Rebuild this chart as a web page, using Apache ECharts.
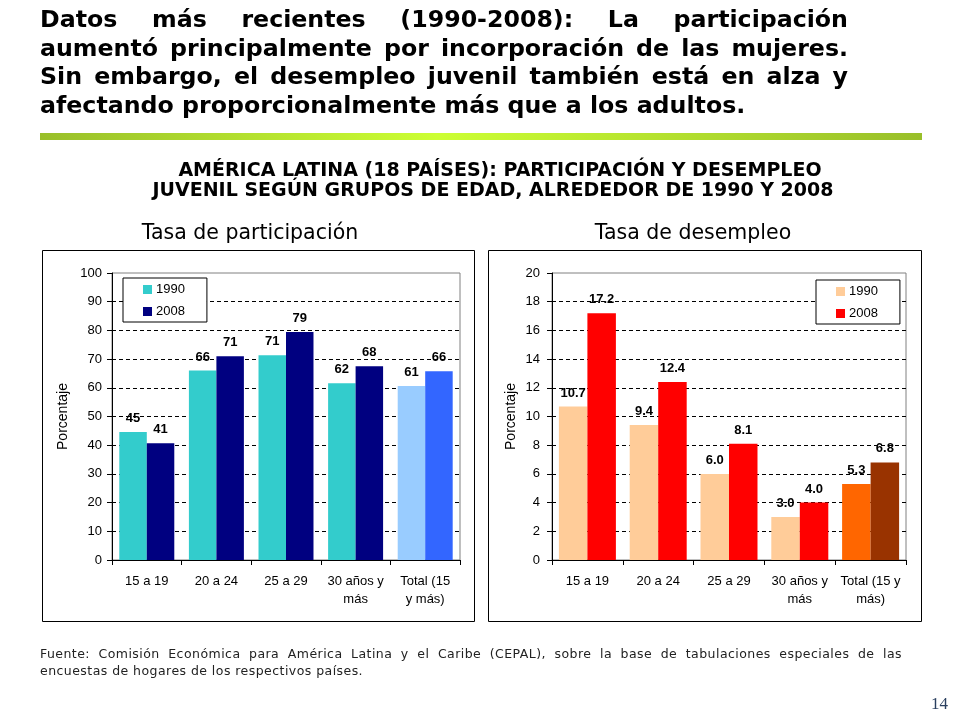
<!DOCTYPE html>
<html>
<head>
<meta charset="utf-8">
<script src="https://cdn.jsdelivr.net/npm/echarts@6/dist/echarts.min.js"></script>
<style>
  html, body { margin: 0; padding: 0; background: #fff; }
  #main { position: absolute; left: 0; top: 0; width: 960px; height: 720px; }
  .txt { position: absolute; pointer-events: none; color: #000; }
  .txt div { white-space: nowrap; }
  .txt .j { text-align: justify; text-align-last: justify; white-space: normal; }
  #cabecera { left: 40px; top: 5px; width: 808px; font: bold 23.7px "DejaVu Sans", sans-serif; line-height: 28.5px; }
  #fuente { left: 40px; top: 645px; width: 862px; font: 12.5px "DejaVu Sans", sans-serif; letter-spacing: 0.45px; line-height: 17px; color: #222; }
</style>
</head>
<body>
<div id="main"></div>
<div id="cabecera" class="txt">
  <div class="j">Datos más recientes (1990-2008): La participación</div>
  <div class="j">aumentó principalmente por incorporación de las mujeres.</div>
  <div class="j">Sin embargo, el desempleo juvenil también está en alza y</div>
  <div>afectando proporcionalmente más que a los adultos.</div>
</div>
<div id="fuente" class="txt">
  <div class="j">Fuente: Comisión Económica para América Latina y el Caribe (CEPAL), sobre la base de tabulaciones especiales de las</div>
  <div>encuestas de hogares de los respectivos países.</div>
</div>
<script>
// datos
var gruposPart = ['15 a 19', '20 a 24', '25 a 29', '30 años y\nmás', 'Total (15\ny más)'];
var gruposDes = ['15 a 19', '20 a 24', '25 a 29', '30 años y\nmás', 'Total (15 y\nmás)'];
var anios = ['1990', '2008'];
var part1990 = [44.6, 66.0, 71.3, 61.6, 60.6];
var part2008 = [40.7, 71.0, 79.4, 67.5, 65.8];
var des1990 = [10.7, 9.4, 6.0, 3.0, 5.3];
var des2008 = [17.2, 12.4, 8.1, 4.0, 6.8];

// colores [grupos, total]
var colPart1990 = ['#33cccc', '#99ccff'];
var colPart2008 = ['#000080', '#3366ff'];
var colDes1990 = ['#ffcc99', '#ff6600'];
var colDes2008 = ['#ff0000', '#993300'];

var fuenteEje = '"Liberation Sans", Arial, sans-serif';

function barras(valores, col) {
  return valores.map(function(v, i) {
    return { value: v, itemStyle: { color: i === valores.length - 1 ? col[1] : col[0] } };
  });
}

function serie(nombre, idx, valores, col, decimales, hueco) {
  return {
    name: nombre,
    type: 'bar',
    xAxisIndex: idx,
    yAxisIndex: idx,
    barGap: '0%',
    barCategoryGap: hueco,
    itemStyle: { color: col[0] },
    label: {
      show: true,
      position: 'top',
      distance: 7,
      color: '#000',
      fontWeight: 'bold',
      fontSize: 13,
      fontFamily: fuenteEje,
      formatter: function(p) {
        return p.value.toFixed(decimales);
      },
    },
    data: barras(valores, col),
  };
}

function ejeX(idx, datos) {
  return {
    type: 'category',
    gridIndex: idx,
    data: datos,
    axisLine: { lineStyle: { color: '#000', width: 1 } },
    axisTick: { show: true, length: 5, lineStyle: { color: '#000' } },
    axisLabel: { color: '#000', fontSize: 13, fontFamily: fuenteEje, margin: 12, lineHeight: 18, interval: 0 },
  };
}

function ejeY(idx, max, intervalo, gap, margen) {
  return {
    type: 'value',
    gridIndex: idx,
    min: 0,
    max: max,
    interval: intervalo,
    name: 'Porcentaje',
    nameLocation: 'middle',
    nameGap: gap,
    nameTextStyle: { color: '#000', fontSize: 14, fontFamily: fuenteEje },
    axisLine: { show: true, lineStyle: { color: '#000', width: 1 } },
    axisTick: { show: true, length: 5, lineStyle: { color: '#000' } },
    axisLabel: { color: '#000', fontSize: 13, fontFamily: fuenteEje, margin: margen },
    splitLine: {
      show: true,
      showMinLine: false,
      showMaxLine: false,
      lineStyle: { color: '#000', type: [4, 3], width: 1 },
    },
  };
}

function leyenda(x, y, col1990, col2008) {
  return {
    orient: 'vertical',
    left: x,
    top: y,
    backgroundColor: '#fff',
    borderColor: '#000',
    borderWidth: 1,
    borderRadius: 0,
    padding: [5, 22, 4, 20],
    itemGap: 9,
    itemWidth: 9,
    itemHeight: 9,
    icon: 'rect',
    selectedMode: false,
    z: 10,
    textStyle: { color: '#000', fontSize: 13, fontFamily: fuenteEje, padding: [0, 0, 0, -1] },
    data: [
      { name: anios[0], itemStyle: { color: col1990 } },
      { name: anios[1], itemStyle: { color: col2008 } },
    ],
  };
}

var option = {
  backgroundColor: '#fff',
  animation: false,
  grid: [
    { left: 112, top: 273, width: 348, height: 287, show: true, borderColor: '#808080', borderWidth: 1, backgroundColor: 'transparent' },
    { left: 552, top: 273, width: 354, height: 287, show: true, borderColor: '#808080', borderWidth: 1, backgroundColor: 'transparent' },
  ],
  legend: [
    leyenda(123, 278, colPart1990[0], colPart2008[0]),
    leyenda(816, 280, colDes1990[0], colDes2008[0]),
  ],
  xAxis: [ejeX(0, gruposPart), ejeX(1, gruposDes)],
  yAxis: [ejeY(0, 100, 10, 42, 10), ejeY(1, 20, 2, 34, 12)],
  series: [
    serie(anios[0], 0, part1990, colPart1990, 0, '21%'),
    serie(anios[1], 0, part2008, colPart2008, 0, '21%'),
    serie(anios[0], 1, des1990, colDes1990, 1, '19.5%'),
    serie(anios[1], 1, des2008, colDes2008, 1, '19.5%'),
  ],
  graphic: [
    // barra verde
    {
      type: 'rect',
      shape: { x: 40, y: 133, width: 882, height: 7 },
      style: {
        fill: new echarts.graphic.LinearGradient(0, 0, 1, 0, [
          { offset: 0, color: '#99bf2a' },
          { offset: 0.45, color: '#ccff33' },
          { offset: 1, color: '#99bf2a' },
        ]),
      },
    },
    {
      type: 'text',
      style: {
        x: 500, y: 171, text: 'AMÉRICA LATINA (18 PAÍSES): PARTICIPACIÓN Y DESEMPLEO',
        align: 'center', verticalAlign: 'middle', fill: '#000',
        font: 'bold 19px "DejaVu Sans", sans-serif',
      },
    },
    {
      type: 'text',
      style: {
        x: 493, y: 191, text: 'JUVENIL SEGÚN GRUPOS DE EDAD, ALREDEDOR DE 1990 Y 2008',
        align: 'center', verticalAlign: 'middle', fill: '#000',
        font: 'bold 19px "DejaVu Sans", sans-serif',
      },
    },
    {
      type: 'text',
      style: {
        x: 250, y: 234, text: 'Tasa de participación', align: 'center', verticalAlign: 'middle', fill: '#000',
        font: '20.5px "DejaVu Sans", sans-serif',
      },
    },
    {
      type: 'text',
      style: {
        x: 693, y: 234, text: 'Tasa de desempleo', align: 'center', verticalAlign: 'middle', fill: '#000',
        font: '20.5px "DejaVu Sans", sans-serif',
      },
    },
    // marcos
    {
      type: 'rect', z: -1,
      shape: { x: 42.5, y: 250.5, width: 432, height: 371 },
      style: { fill: 'none', stroke: '#000', lineWidth: 1 },
    },
    {
      type: 'rect', z: -1,
      shape: { x: 488.5, y: 250.5, width: 433, height: 371 },
      style: { fill: 'none', stroke: '#000', lineWidth: 1 },
    },
    {
      type: 'text',
      style: {
        x: 948, y: 705, text: '14', align: 'right', verticalAlign: 'middle', fill: '#2a3f5f',
        font: '17px "Liberation Serif", "DejaVu Serif", serif',
      },
    },
  ],
};

var grafico = echarts.init(document.getElementById('main'));
grafico.setOption(option);
</script>
</body>
</html>
